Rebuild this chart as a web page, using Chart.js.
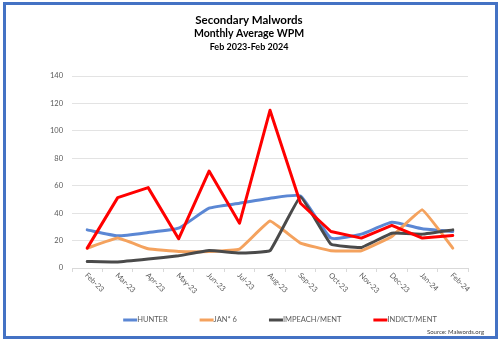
<!DOCTYPE html>
<html>
<head>
<meta charset="utf-8">
<script src="https://cdn.jsdelivr.net/npm/chart.js@4/dist/chart.umd.min.js"></script>
<style>
  html, body { margin: 0; padding: 0; background: #ffffff; }
  #wrap { position: relative; width: 500px; height: 342px; }
  canvas { display: block; }
</style>
</head>
<body>
<div id="wrap"><canvas id="c" width="500" height="342"></canvas></div>
<script>
const titleLines = ["Secondary Malwords", "Monthly Average WPM", "Feb 2023-Feb 2024"];
const sourceText = "Source: Malwords.org";
const categories = ["Feb-23","Mar-23","Apr-23","May-23","Jun-23","Jul-23","Aug-23","Sep-23","Oct-23","Nov-23","Dec-23","Jan-24","Feb-24"];
const seriesNames = ["HUNTER", "JAN* 6", "IMPEACH/MENT", "INDICT/MENT"];
const hunter  = [27.8, 23.5, 25.9, 29.0, 43.6, 47.2, 50.9, 52.5, 21.8, 24.7, 33.4, 28.6, 26.6];
const jan6    = [14.5, 21.8, 14.0, 12.1, 12.1, 13.8, 34.2, 18.2, 12.6, 12.6, 23.0, 42.4, 14.5];
const impeach = [4.8, 4.4, 6.5, 8.9, 12.8, 10.9, 12.6, 52.0, 17.4, 15.0, 25.4, 24.7, 27.8];
const indict  = [14.5, 51.3, 58.6, 21.3, 70.7, 32.7, 115.0, 47.2, 26.6, 21.8, 31.0, 21.8, 23.7];
const yTicks = [0, 20, 40, 60, 80, 100, 120, 140];

const colors = ["#5b87d4", "#f4a25e", "#4a4a4a", "#ff0000"];
const FONT = "Lato, 'Open Sans', sans-serif";
const TXT = "#595959";

const decor = {
  id: 'decor',
  beforeDraw(chart) {
    const ctx = chart.ctx;
    ctx.save();
    ctx.fillStyle = '#ffffff';
    ctx.fillRect(0, 0, chart.width, chart.height);
    ctx.restore();
  },
  afterDraw(chart) {
    const ctx = chart.ctx;
    const xs = chart.scales.x;
    ctx.save();
    ctx.fillStyle = '#000000';
    ctx.textAlign = 'center';
    ctx.textBaseline = 'middle';
    const tSizes = [11.5, 10.5, 9];
    const tY = [20, 34, 47];
    titleLines.forEach((t, i) => {
      ctx.font = `bold ${tSizes[i]}px ${FONT}`;
      ctx.fillText(t, 249, tY[i]);
    });
    ctx.fillStyle = TXT;
    ctx.font = `7.5px ${FONT}`;
    ctx.textAlign = 'left';
    ctx.textBaseline = 'middle';
    categories.forEach((lab, i) => {
      const x = xs.getPixelForTick(i);
      ctx.save();
      ctx.translate(x - 1, 274);
      ctx.rotate(Math.PI / 4);
      ctx.fillText(lab, 0, 0);
      ctx.restore();
    });
    ctx.font = `7.5px ${FONT}`;
    const lineW = 14, gap = 32;
    const widths = seriesNames.map(n => lineW + ctx.measureText(n).width);
    const total = widths.reduce((a, b) => a + b, 0) + gap * (seriesNames.length - 1);
    let lx = 280 - total / 2;
    const ly = 320;
    chart.data.datasets.forEach((ds, i) => {
      ctx.strokeStyle = ds.borderColor;
      ctx.lineWidth = 3;
      ctx.beginPath();
      ctx.moveTo(lx, ly);
      ctx.lineTo(lx + lineW, ly);
      ctx.stroke();
      ctx.fillStyle = TXT;
      ctx.textAlign = 'left';
      ctx.fillText(ds.label, lx + lineW, ly);
      lx += widths[i] + gap;
    });
    ctx.font = `6px ${FONT}`;
    ctx.fillStyle = '#404040';
    ctx.textAlign = 'right';
    ctx.fillText(sourceText, 484, 332);
    ctx.strokeStyle = '#4472c4';
    ctx.lineWidth = 3;
    ctx.strokeRect(4.5, 3.5, 492, 334);
    ctx.restore();
  }
};

new Chart(document.getElementById('c'), {
  type: 'line',
  data: {
    labels: categories,
    datasets: [
      { label: seriesNames[0], data: hunter,  borderColor: colors[0], tension: 0.15, order: 3 },
      { label: seriesNames[1], data: jan6,    borderColor: colors[1], tension: 0.08, order: 2 },
      { label: seriesNames[2], data: impeach, borderColor: colors[2], tension: 0.08, order: 1 },
      { label: seriesNames[3], data: indict,  borderColor: colors[3], tension: 0, order: 0 }
    ]
  },
  options: {
    responsive: false,
    animation: false,
    devicePixelRatio: 1,
    layout: { padding: { left: 32, right: 32, top: 76, bottom: 0 } },
    elements: {
      line: { borderWidth: 3, fill: false, borderCapStyle: 'round', borderJoinStyle: 'round' },
      point: { radius: 0, hoverRadius: 0 }
    },
    plugins: {
      legend: { display: false },
      title: { display: false },
      tooltip: { enabled: false }
    },
    scales: {
      x: {
        offset: true,
        grid: { display: true, drawOnChartArea: false, drawTicks: true, tickLength: 4, color: '#d9d9d9', offset: true },
        border: { display: true, color: '#d9d9d9' },
        ticks: { display: false },
        afterFit(s) { s.height = 74; }
      },
      y: {
        min: 0, max: 140,
        afterBuildTicks(s) { s.ticks = yTicks.map(v => ({ value: v })); },
        grid: { color: '#e3e3e3', drawTicks: false, lineWidth: 1 },
        border: { display: false },
        ticks: { color: TXT, font: { family: FONT, size: 7.5 }, padding: 9 },
        afterFit(s) { s.width = 40; }
      }
    }
  },
  plugins: [decor]
});
</script>
</body>
</html>
